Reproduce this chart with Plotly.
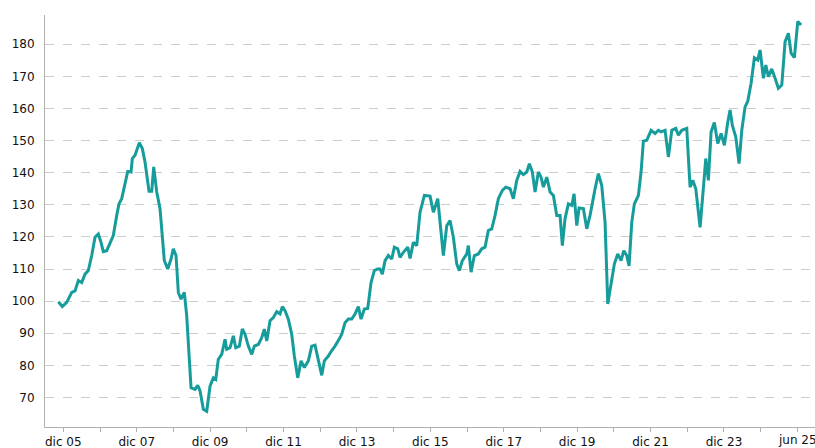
import plotly.graph_objects as go

# time position, years after "dic 05"
t_pos = [-0.136, -0.027, 0.093, 0.229, 0.319, 0.409, 0.501, 0.591, 0.681, 0.774, 0.864, 0.954,
         1.027, 1.090, 1.183, 1.272, 1.362, 1.455, 1.518, 1.591, 1.681, 1.755, 1.845, 1.880, 1.954,
         2.071, 2.153, 2.226, 2.335, 2.409, 2.463, 2.545, 2.635, 2.681, 2.752, 2.845, 2.935, 2.997,
         3.071, 3.134, 3.207, 3.297, 3.362, 3.480, 3.589, 3.662, 3.725, 3.815, 3.907, 3.997,
         4.087, 4.153, 4.223, 4.316, 4.406, 4.452, 4.542, 4.632, 4.698, 4.796, 4.877, 4.951,
         5.041, 5.134, 5.204, 5.313, 5.406, 5.477, 5.542, 5.632, 5.722, 5.815, 5.905, 5.967,
         6.041, 6.131, 6.223, 6.294, 6.387, 6.477, 6.567, 6.676, 6.768, 6.858, 6.948,
         7.041, 7.112, 7.221, 7.313, 7.403, 7.512, 7.586, 7.676, 7.766, 7.858, 7.948,
         8.038, 8.112, 8.202, 8.294, 8.384, 8.474, 8.567, 8.629, 8.692, 8.766, 8.856, 8.948,
         9.019, 9.112, 9.174, 9.264, 9.384, 9.447, 9.537, 9.629, 9.719, 9.837, 9.992,
         10.082, 10.202, 10.264, 10.354, 10.447, 10.537, 10.627, 10.719, 10.790, 10.872, 10.992,
         11.035, 11.109, 11.199, 11.308, 11.401, 11.490, 11.580, 11.673, 11.763, 11.853, 11.962,
         12.054, 12.172, 12.262, 12.354, 12.444, 12.534, 12.627, 12.698, 12.779, 12.853, 12.943,
         13.016, 13.079, 13.172, 13.262, 13.352, 13.444, 13.534, 13.597, 13.670, 13.760, 13.853,
         13.916, 13.989, 14.052, 14.169, 14.262, 14.351, 14.488, 14.578, 14.670, 14.760, 14.834,
         14.924, 15.014, 15.106, 15.196, 15.270, 15.351, 15.414, 15.488, 15.559, 15.668, 15.741,
         15.804, 15.896, 16.014, 16.123, 16.213, 16.286, 16.395, 16.485, 16.578, 16.687, 16.757,
         16.850, 16.986, 17.076, 17.150, 17.232, 17.349, 17.422, 17.504, 17.575, 17.649, 17.738,
         17.831, 17.921, 18.011, 18.104, 18.166, 18.229, 18.322, 18.411, 18.485, 18.575, 18.649,
         18.738, 18.828, 18.921, 18.984, 19.074, 19.139, 19.210, 19.302, 19.392, 19.482, 19.575,
         19.665, 19.755, 19.828, 19.918, 20.011, 20.101]

values = [99.8, 98.3, 99.6, 102.7, 103.2, 106.4, 105.8, 108.4, 109.5, 114.2, 119.9, 120.9,
          118.3, 115.4, 115.7, 118.3, 120.4, 126.7, 130.3, 131.9, 137.1, 140.4, 140.2, 144.4, 145.4,
          149.3, 147.5, 143.3, 134.2, 134.2, 141.8, 134.0, 128.8, 122.5, 112.6, 110.0, 113.1, 116.3,
          114.2, 102.7, 100.6, 102.7, 95.4, 73.0, 72.5, 73.8, 72.0, 66.3, 65.7, 73.5,
          76.1, 75.6, 81.9, 83.4, 88.1, 85.0, 85.5, 89.2, 85.5, 86.0, 91.3, 89.7,
          86.0, 83.4, 86.0, 86.5, 88.6, 91.3, 87.6, 93.9, 94.9, 96.7, 96.0, 98.3,
          97.0, 94.4, 89.7, 82.9, 76.1, 81.4, 79.3, 81.4, 86.0, 86.3, 81.9,
          76.9, 81.4, 82.9, 84.6, 86.0, 88.1, 89.7, 93.3, 94.4, 94.4, 96.0,
          98.3, 94.4, 97.5, 97.7, 105.8, 109.5, 110.0, 110.0, 108.4, 112.6, 114.2, 113.1,
          116.8, 116.3, 113.6, 115.2, 116.8, 113.3, 118.3, 117.3, 127.7, 132.9, 132.7,
          127.7, 131.9, 124.6, 114.2, 123.5, 125.1, 119.9, 111.6, 109.5, 112.6, 114.7,
          117.3, 109.0, 114.2, 114.7, 116.3, 116.8, 122.0, 122.5, 126.7, 131.9, 134.5,
          135.5, 135.0, 131.9, 137.6, 140.4, 139.4, 140.2, 142.8, 140.2, 134.0, 140.2,
          138.6, 135.5, 138.6, 134.0, 132.9, 126.7, 126.7, 117.3, 125.7, 130.3, 129.8,
          133.4, 123.5, 129.0, 128.8, 122.5, 126.7, 135.0, 139.7, 136.0, 124.6, 99.1,
          105.8, 111.6, 114.7, 112.6, 115.7, 114.2, 111.0, 124.6, 130.3, 132.9, 140.2,
          149.8, 150.1, 153.2, 152.2, 153.2, 152.7, 153.2, 144.9, 153.2, 153.8, 151.7,
          153.2, 153.8, 135.5, 137.6, 135.0, 123.0, 132.9, 144.4, 137.6, 152.7, 155.6,
          149.1, 152.2, 148.5, 155.8, 159.5, 154.7, 151.1, 142.8, 153.2, 160.5, 162.3,
          167.8, 175.8, 175.1, 178.2, 169.4, 173.5, 169.9, 172.3, 169.4, 166.3, 167.3,
          180.8, 183.4, 177.2, 175.8, 187.1, 186.0]

tick_pos = list(range(0, 21))
tick_text = ["dic 05", "", "dic 07", "", "dic 09", "", "dic 11", "", "dic 13", "",
             "dic 15", "", "dic 17", "", "dic 19", "", "dic 21", "", "dic 23", "", "jun 25"]
y_ticks = [70, 80, 90, 100, 110, 120, 130, 140, 150, 160, 170, 180]

fig = go.Figure()
fig.add_trace(go.Scatter(
    x=t_pos, y=values, mode="lines",
    line=dict(color="#179c9c", width=3),
    hoverinfo="skip", showlegend=False,
))

fig.update_layout(
    width=815, height=448,
    margin=dict(l=45, r=0, t=15, b=21),
    paper_bgcolor="white", plot_bgcolor="white",
    font=dict(family="DejaVu Sans", size=12, color="#111111"),
    showlegend=False,
)
# last tick label runs past the right edge (clipped like in the reference)
fig.add_annotation(
    x=tick_pos[-1], xref="x", y=0, yref="paper",
    text=tick_text[-1], showarrow=False,
    xanchor="center", yanchor="top", yshift=-4,
    font=dict(family="DejaVu Sans", size=12, color="#111111"),
)
fig.update_xaxes(
    range=[-0.499, 20.48],
    tickmode="array", tickvals=tick_pos, ticktext=tick_text[:-1] + [""],
    tickangle=0, automargin=False,
    ticks="outside", ticklen=4, tickcolor="#b0b0b0", tickwidth=1,
    showline=True, linecolor="#b0b0b0", linewidth=1,
    showgrid=False, zeroline=False,
    tickfont=dict(size=12, color="#111111"),
)
fig.update_yaxes(
    range=[60.8, 189.1],
    tickmode="array", tickvals=y_ticks, automargin=False,
    ticks="", ticklabelstandoff=7,
    showline=True, linecolor="#b0b0b0", linewidth=1,
    showgrid=True, gridcolor="#cccccc", gridwidth=1, griddash="dash",
    zeroline=False,
    tickfont=dict(size=12, color="#111111"),
)

fig.write_html("out.html", config={"displayModeBar": False},
               post_script="document.body.style.margin='0';document.body.style.overflow='hidden';")
